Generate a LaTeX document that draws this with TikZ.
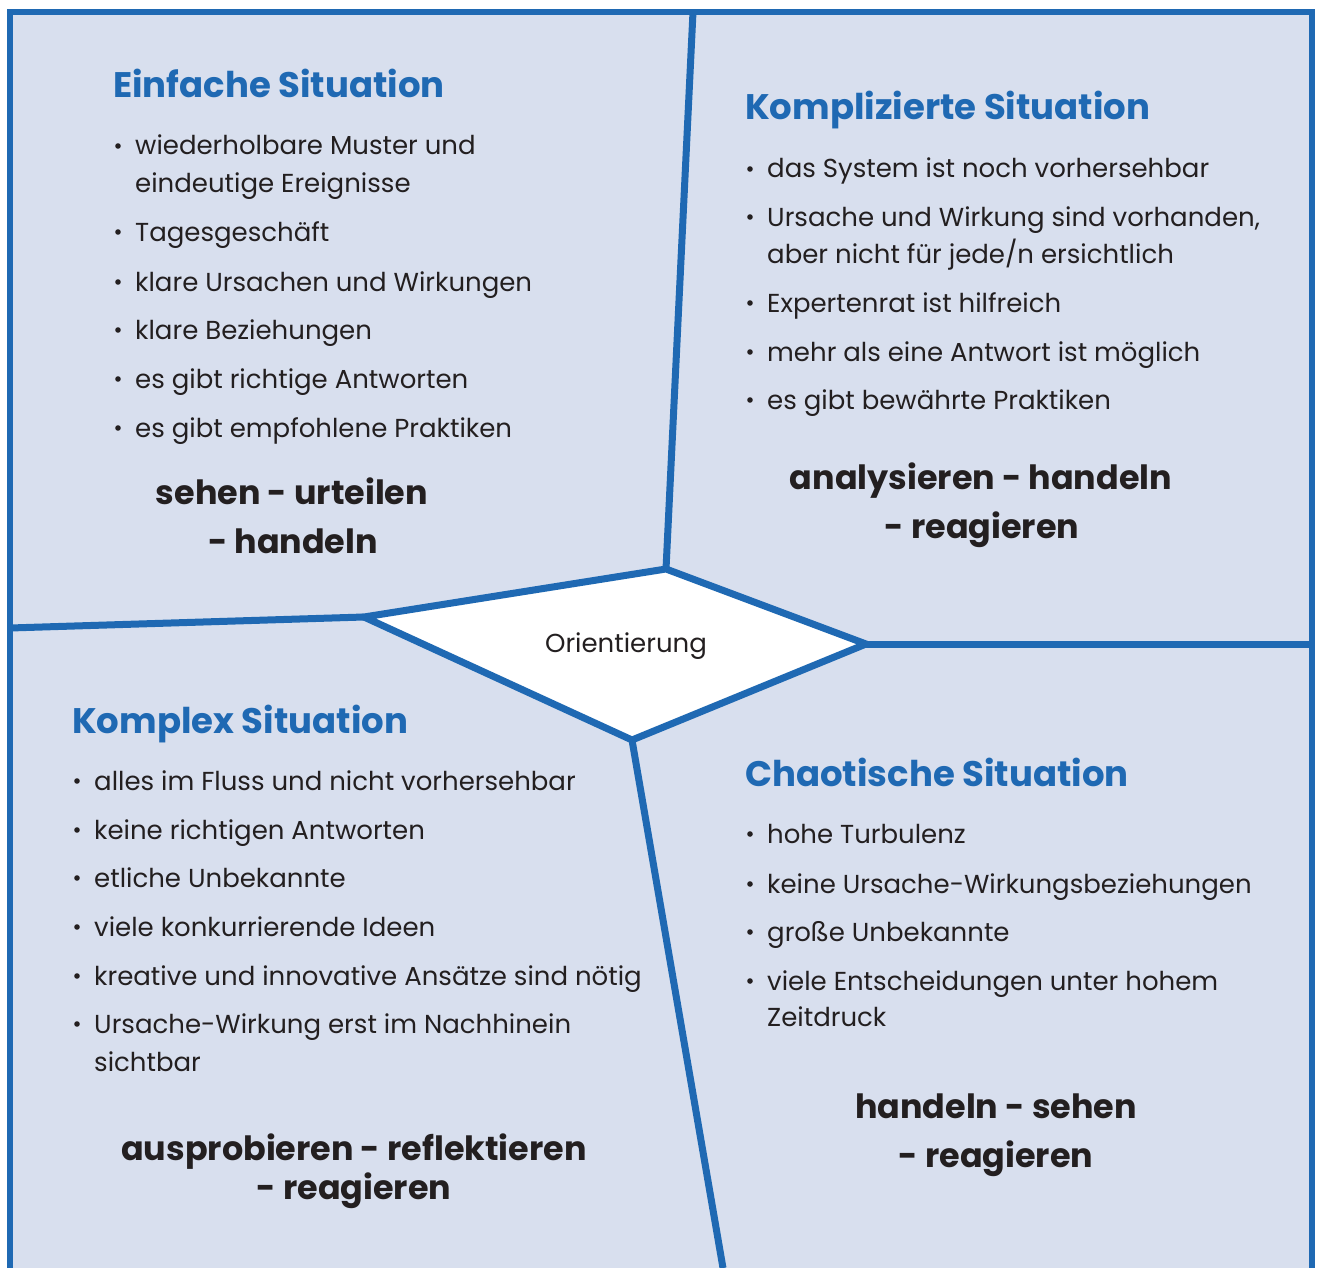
\documentclass[tikz,border=0pt]{standalone}
\usepackage{fontspec}
\setmainfont{Poppins}
\definecolor{bgc}{HTML}{D8DFEE}
\definecolor{lnc}{HTML}{1F69B3}
\definecolor{txc}{HTML}{231F20}
\newcommand\bitem[4]{\fill[txc] (#2-17,#3-9) circle (2.8);
  \node[item] (#1) at (#2,#3) {#4};}
\begin{document}
\begin{tikzpicture}[x=1pt,y=-1pt,
  ln/.style={draw=lnc,line width=7pt,line join=miter},
  ttl/.style={anchor=base west,inner sep=0pt,text=lnc,font=\bfseries\fontsize{35.5}{38}\selectfont},
  item/.style={anchor=base west,inner sep=0pt,text=txc,font=\fontsize{26}{30}\selectfont},
  act/.style={anchor=base,inner sep=0pt,text=txc,font=\bfseries\fontsize{33.4}{36}\selectfont},
  ori/.style={anchor=base,inner sep=0pt,text=txc,font=\fontsize{26}{30}\selectfont}]
\useasboundingbox (0,0) rectangle (1317,1268);
\fill[bgc] (10,12) rectangle (1312,1268);
\fill[white] (364,617) -- (666,569) -- (866,644) -- (632,740) -- cycle;
\draw[ln] (364,617) -- (666,569) -- (866,644) -- (632,740) -- cycle;
\draw[ln] (10,628) -- (364,617);
\draw[ln] (693,12) -- (666,569);
\draw[ln] (866,644) -- (1312,644);
\draw[ln] (632,740) -- (723,1268);
\draw[ln,line width=6pt] (10,1268) -- (10,12) -- (1312,12) -- (1312,1268);
\node[ori] (o) at (626,652) {Orientierung};
% Q1
\node[ttl] (t1) at (113,98) {Einfache Situation};
\bitem{a1}{135}{155}{wiederholbare Muster und}
\node[item] (a1b) at (135,193) {eindeutige Ereignisse};
\bitem{a2}{135}{241}{Tagesgeschäft}
\bitem{a3}{135}{291}{klare Ursachen und Wirkungen}
\bitem{a4}{135}{339}{klare Beziehungen}
\bitem{a5}{135}{388}{es gibt richtige Antworten}
\bitem{a6}{135}{437}{es gibt empfohlene Praktiken}
\node[act] (h1) at (292,504) {sehen - urteilen};
\node[act] (h1b) at (293,553) {- handeln};
% Q2
\node[ttl] (t2) at (745,120) {Komplizierte Situation};
\bitem{b1}{767}{178}{das System ist noch vorhersehbar}
\bitem{b2}{767}{226}{Ursache und Wirkung sind vorhanden,}
\node[item] (b2b) at (767,263) {aber nicht für jede/n ersichtlich};
\bitem{b3}{767}{312}{Expertenrat ist hilfreich}
\bitem{b4}{767}{361}{mehr als eine Antwort ist möglich}
\bitem{b5}{767}{409}{es gibt bewährte Praktiken}
\node[act] (h2) at (981,489) {analysieren - handeln};
\node[act] (h2b) at (982,538) {- reagieren};
% Q3
\node[ttl] (t3) at (72,733) {Komplex Situation};
\bitem{c1}{94}{790}{alles im Fluss und nicht vorhersehbar}
\bitem{c2}{94}{839}{keine richtigen Antworten}
\bitem{c3}{94}{887}{etliche Unbekannte}
\bitem{c4}{94}{936}{viele konkurrierende Ideen}
\bitem{c5}{94}{985}{kreative und innovative Ansätze sind nötig}
\bitem{c6}{94}{1033}{Ursache-Wirkung erst im Nachhinein}
\node[item] (c6b) at (94,1071) {sichtbar};
\node[act] (h3) at (354,1160) {ausprobieren - reflektieren};
\node[act] (h3b) at (354,1199) {- reagieren};
% Q4
\node[ttl] (t4) at (745,786) {Chaotische Situation};
\bitem{d1}{767}{843}{hohe Turbulenz}
\bitem{d2}{767}{893}{keine Ursache-Wirkungsbeziehungen}
\bitem{d3}{767}{941}{große Unbekannte}
\bitem{d4}{767}{990}{viele Entscheidungen unter hohem}
\node[item] (d4b) at (767,1026) {Zeitdruck};
\node[act] (h4) at (996,1118) {handeln - sehen};
\node[act] (h4b) at (996,1167) {- reagieren};
\end{tikzpicture}
\end{document}
